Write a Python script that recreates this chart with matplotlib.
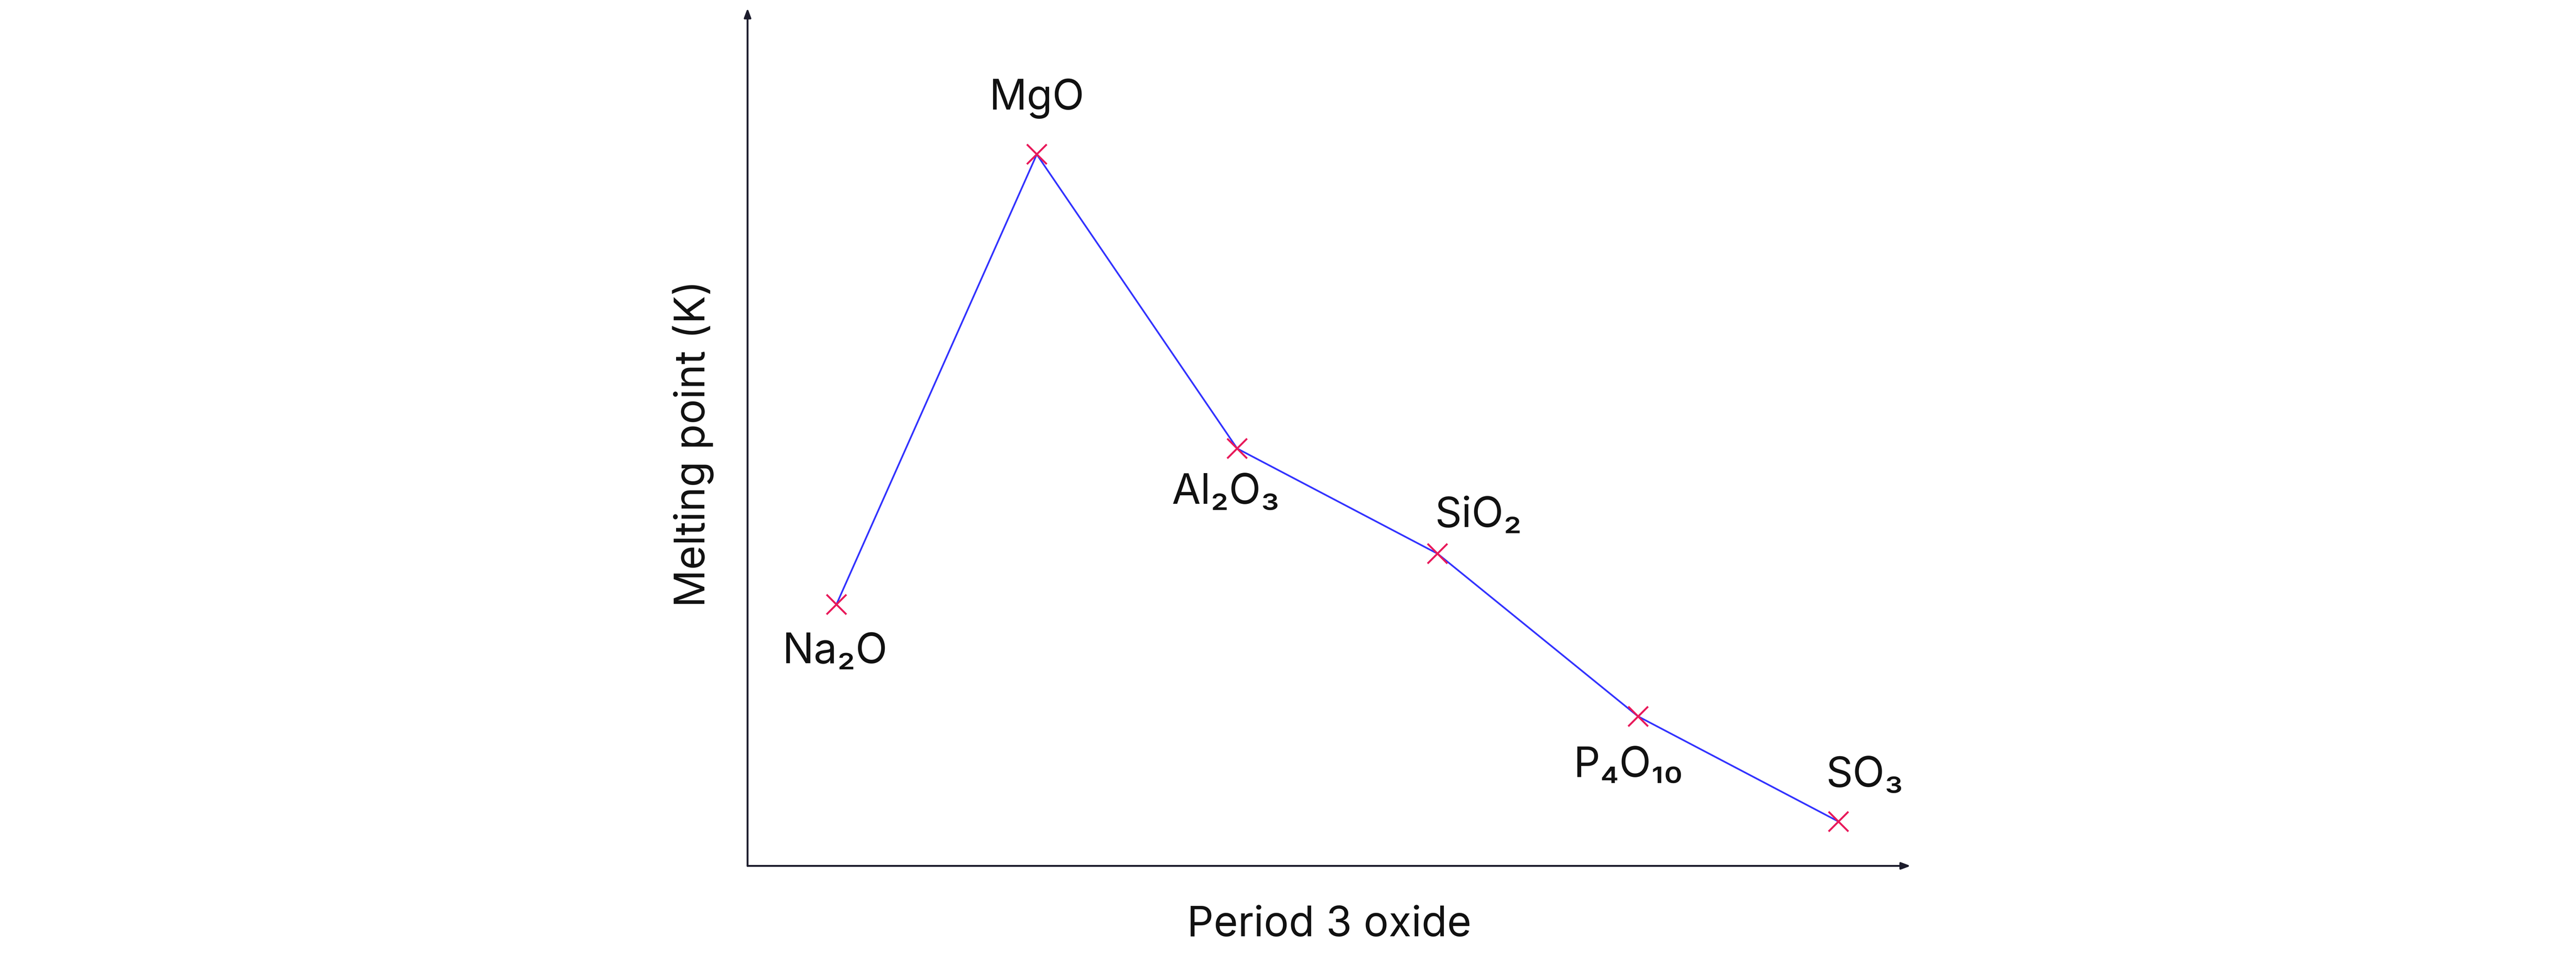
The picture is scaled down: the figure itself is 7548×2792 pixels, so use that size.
import matplotlib.pyplot as plt

oxides = ['Na₂O', 'MgO', 'Al₂O₃', 'SiO₂', 'P₄O₁₀', 'SO₃']
# relative melting point (arbitrary units, no scale shown)
melting = [159, 433, 254, 190, 91, 27]
# label offsets in points (dx, dy)
label_offsets = [(-3, -100), (0, 118), (-24, -93), (86, 80), (-21, -104), (55, 97)]

plt.rcParams['font.family'] = ['Inter', 'DejaVu Sans']

fig = plt.figure(figsize=(75.48, 27.92), dpi=100)
ax = fig.add_axes([0.2902, 0.0914, 0.4515, 0.900])

xs = list(range(len(oxides)))
ax.plot(xs, melting, color='#3333ff', lw=3.6, zorder=2)
ax.plot(xs, melting, ls='none', marker='x', color='#e8195a', ms=42, mew=4, zorder=3)

for x, y, name, off in zip(xs, melting, oxides, label_offsets):
    ax.annotate(name, (x, y), xytext=off, textcoords='offset points',
                ha='center', va='center', fontsize=88, color='#111111')

ax.set_xlim(-0.443, 5.36)
ax.set_ylim(0, 522)
for s in ax.spines.values():
    s.set_visible(False)
ax.set_xticks([])
ax.set_yticks([])

axis_col = '#1c1c2c'
arrow = dict(arrowstyle='-|>,head_length=1.6,head_width=0.6', color=axis_col, lw=4,
             shrinkA=0, shrinkB=0)
ax.annotate('', xy=(1, 0), xytext=(0, 0), xycoords='axes fraction', arrowprops=arrow)
ax.annotate('', xy=(0, 1), xytext=(0, 0), xycoords='axes fraction', arrowprops=arrow)

fig.text(422 / 1568, 1 - 270 / 580, 'Melting point (K)', rotation=90,
         ha='center', va='center', fontsize=88, color='#111111')
fig.text(809 / 1568, 1 - 563 / 580, 'Period 3 oxide',
         ha='center', va='center', fontsize=88, color='#111111')

fig.savefig('out.png', dpi=100)
